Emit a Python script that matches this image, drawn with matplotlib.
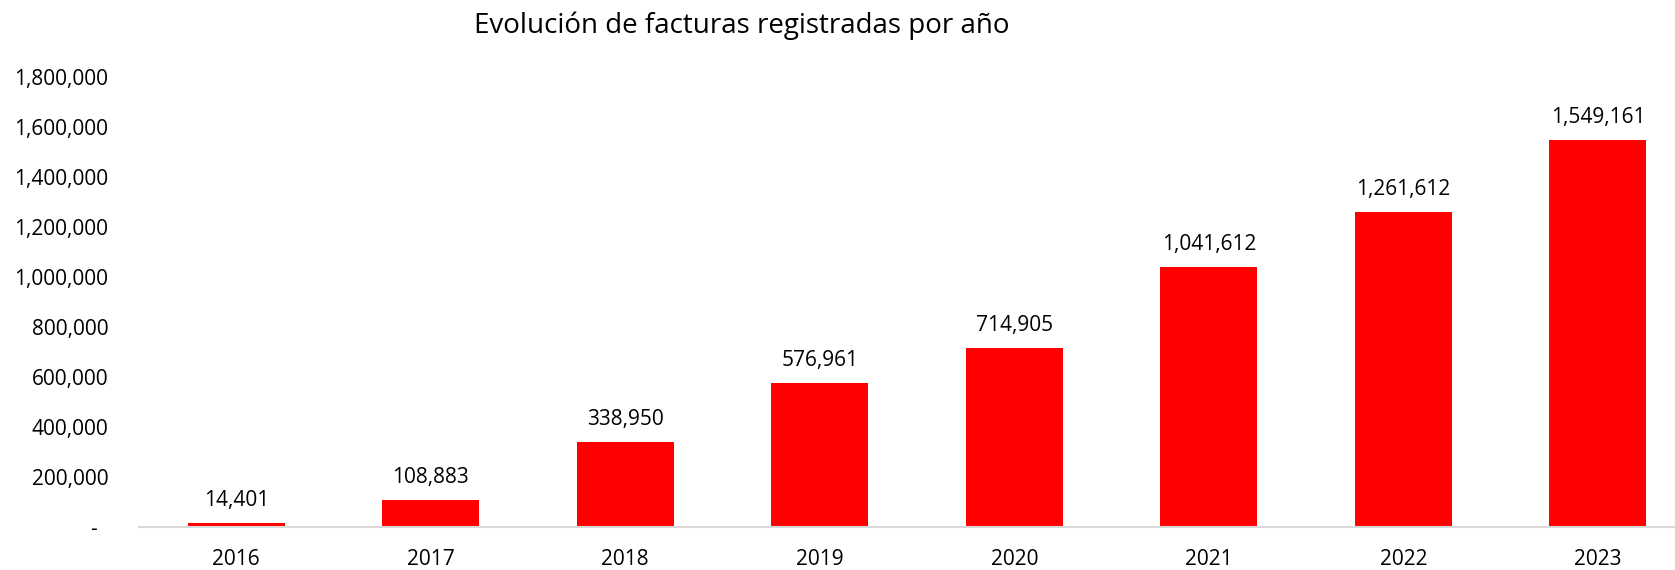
import matplotlib.pyplot as plt
from matplotlib.ticker import FuncFormatter

# === DATA ===
years = ["2016", "2017", "2018", "2019", "2020", "2021", "2022", "2023"]
invoices = [14401, 108883, 338950, 576961, 714905, 1041612, 1261612, 1549161]
y_ticks = [0, 200000, 400000, 600000, 800000, 1000000, 1200000, 1400000, 1600000, 1800000]
title = "Evolución de facturas registradas por año"

BAR_COLOR = "#ff0000"
AXIS_COLOR = "#d9d9d9"
TEXT_COLOR = "#000000"

plt.rcParams["font.family"] = ["Open Sans", "DejaVu Sans"]

fig = plt.figure(figsize=(16.75, 5.7), dpi=100)
ax = fig.add_axes([0.083, 0.0754, 0.929, 0.789])

x = range(len(years))
bars = ax.bar(x, invoices, width=0.5, color=BAR_COLOR)

ax.set_xlim(-0.5, len(years) - 0.5)
ax.set_ylim(0, 1800000)
ax.set_xticks(list(x))
ax.set_xticklabels(years)
ax.set_yticks(y_ticks)


def fmt(v, pos):
    # accounting style: zero shown as a dash
    if v == 0:
        return "-  "
    return f"{v:,.0f}"


ax.yaxis.set_major_formatter(FuncFormatter(fmt))
ax.tick_params(axis="both", length=0, labelsize=15, colors=TEXT_COLOR)
ax.tick_params(axis="x", pad=16)
ax.tick_params(axis="y", pad=22)

for side in ["top", "right", "left"]:
    ax.spines[side].set_visible(False)
ax.spines["bottom"].set_color(AXIS_COLOR)
ax.spines["bottom"].set_linewidth(1.5)

# value labels
for xi, v in zip(x, invoices):
    ax.annotate(f"{v:,}", (xi, v), xytext=(0, 12), textcoords="offset pixels",
                ha="center", va="bottom", fontsize=15, color=TEXT_COLOR)

fig.text(0.443, 0.955, title, ha="center", va="center", fontsize=20, color=TEXT_COLOR)

fig.savefig("out.png", dpi=100)
